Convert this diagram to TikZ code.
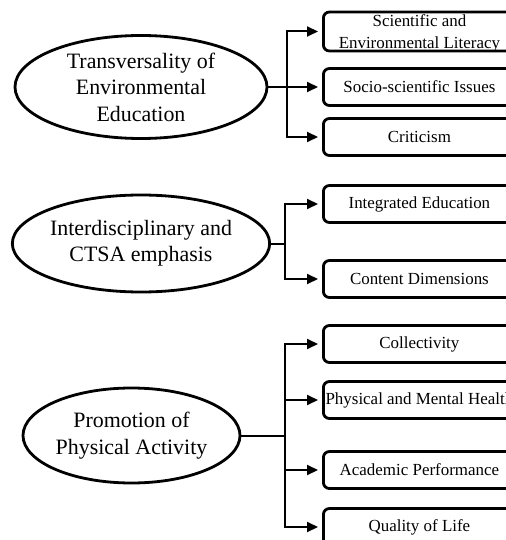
\documentclass[tikz,border=0pt]{standalone}
\usepackage{fontspec}
\setmainfont{Liberation Serif}
\usetikzlibrary{arrows.meta,positioning,shapes.geometric,calc}

\begin{document}
\begin{tikzpicture}[x=1bp,y=-1bp,
 topic/.style={ellipse,draw,line width=2.8bp,inner sep=0pt,align=center,%
   font=\fontsize{22}{26.5}\selectfont},
 box/.style={draw,line width=2.8bp,rounded corners=6bp,minimum width=192bp,%
   minimum height=37bp,inner sep=0pt,align=center,anchor=west,%
   font=\fontsize{17}{21.5}\selectfont},
 arr/.style={-{Triangle[length=11bp,width=10bp]},line width=2bp,shorten >=4bp},
 link/.style={line width=2bp}]
\useasboundingbox (0,0) rectangle (506,540);
\clip (0,0) rectangle (506,540);
% first group
\node[topic,minimum width=252bp,minimum height=103bp] (t1) at (141,87)
  {Transversality of\\Environmental\\Education};
\node[box,minimum height=39bp,text depth=-3bp] (b11) at (322,31.5) {Scientific and\\Environmental Literacy};
\node[box] (b12) at (322,87) {Socio-scientific Issues};
\node[box] (b13) at (322,137) {Criticism};
\coordinate (j1) at (287,87);
\draw[link] (t1.east)--(j1);%
\draw[arr] (j1) |- (b11.west);%
\draw[arr] (j1) |- (b12.west);%
\draw[arr] (j1) |- (b13.west);
% second group
\node[topic,minimum width=232bp,minimum height=97bp] (t2) at (141,243.5)
  {Interdisciplinary and\\CTSA emphasis};
\node[box] (b21) at (322,204) {Integrated Education};
\node[box] (b22) at (322,279) {Content Dimensions};
\coordinate (j2) at (285,243.5);
\draw[link] (t2.east)--(j2);%
\draw[arr] (j2) |- (b21.west);%
\draw[arr] (j2) |- (b22.west);
% third group
\node[topic,minimum width=217bp,minimum height=95bp] (t3) at (131.5,435.5)
  {Promotion of\\Physical Activity};
\node[box] (b31) at (322,344) {Collectivity};
\node[box] (b32) at (322,400) {Physical and Mental Health};
\node[box] (b33) at (322,470) {Academic Performance};
\node[box] (b34) at (322,527) {Quality of Life};
\coordinate (j3) at (285,435.5);
\draw[link] (t3.east)--(j3);%
\draw[arr] (j3) |- (b31.west);%
\draw[arr] (j3) |- (b32.west);%
\draw[arr] (j3) |- (b33.west);%
\draw[arr] (j3) |- (b34.west);
\end{tikzpicture}
\end{document}
